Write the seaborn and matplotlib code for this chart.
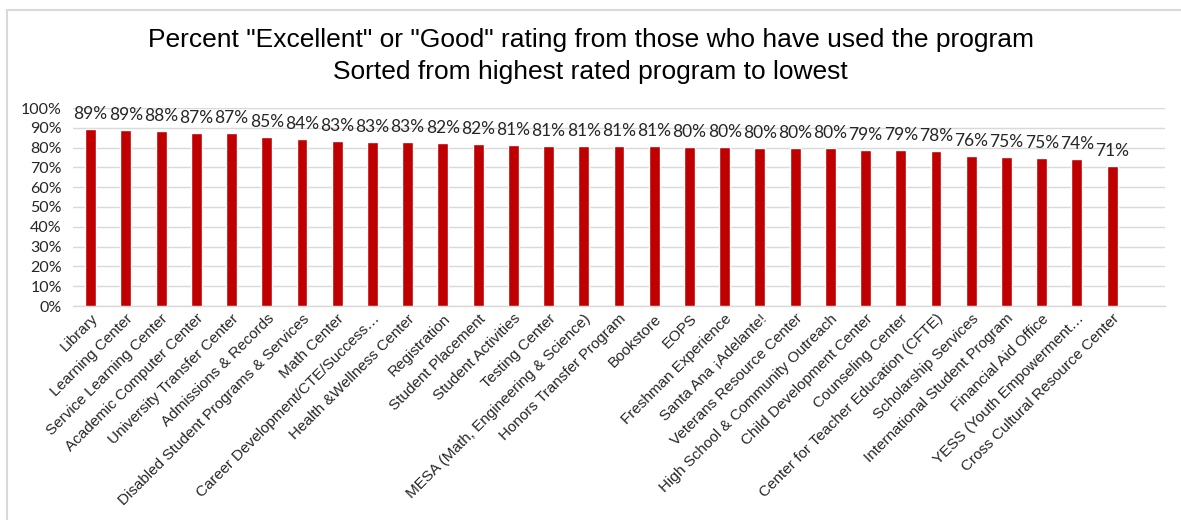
import matplotlib
matplotlib.use("Agg")
import matplotlib.pyplot as plt
import seaborn as sns
import pandas as pd
from matplotlib.lines import Line2D
from matplotlib.ticker import PercentFormatter, MultipleLocator

programs = [
    "Library", "Learning Center", "Service Learning Center", "Academic Computer Center",
    "University Transfer Center", "Admissions & Records", "Disabled Student Programs & Services",
    "Math Center", "Career Development/CTE/Success\u2026", "Health &Wellness Center",
    "Registration", "Student Placement", "Student Activities", "Testing Center",
    "MESA (Math, Engineering & Science)", "Honors Transfer Program", "Bookstore", "EOPS",
    "Freshman Experience", "Santa Ana \u00a1Adelante!", "Veterans Resource Center",
    "High School & Community Outreach", "Child Development Center", "Counseling Center",
    "Center for Teacher Education (CFTE)", "Scholarship Services",
    "International Student Program", "Financial Aid Office", "YESS (Youth Empowerment\u2026",
    "Cross Cultural Resource Center",
]
pct_good = [
    89.3, 88.8, 88.4, 87.4, 87.4, 85.2, 84.3, 83.3, 82.9, 82.9,
    82.4, 82.0, 81.4, 81.0, 81.0, 81.0, 81.0, 80.2, 80.1, 79.8,
    79.7, 79.7, 78.7, 78.6, 78.4, 76.0, 75.4, 74.6, 74.1, 70.8,
]

df = pd.DataFrame({"program": programs, "pct": [v / 100 for v in pct_good]})

sns.set_theme(style="white")
plt.rcParams["font.family"] = ["Liberation Sans", "DejaVu Sans"]

fig = plt.figure(figsize=(11.81, 5.2), dpi=100)
ax = fig.add_axes([73 / 1181, 1 - 306 / 520, (1165 - 73) / 1181, (306 - 108) / 520])

sns.barplot(data=df, x="program", y="pct", color="#C00000", saturation=1,
            width=0.31, ax=ax, zorder=3)

ax.set_xlim(-0.5, len(programs) + 0.5)
ax.set_ylim(0, 1.0)
ax.yaxis.set_major_locator(MultipleLocator(0.1))
ax.yaxis.set_major_formatter(PercentFormatter(1.0, decimals=0))
ax.grid(axis="y", color="#d9d9d9", linewidth=1, zorder=0)
ax.grid(axis="x", visible=False)
for side in ["left", "right", "top"]:
    ax.spines[side].set_visible(False)
ax.spines["bottom"].set_color("#d9d9d9")
ax.spines["bottom"].set_linewidth(1)
ax.set_xlabel("")
ax.set_ylabel("")
ax.tick_params(axis="both", length=0)
ax.tick_params(axis="y", pad=8)

for lbl in ax.get_yticklabels():
    lbl.set_fontfamily(["Lato", "DejaVu Sans"])
    lbl.set_fontsize(11.5)
    lbl.set_color("#262626")

ax.set_xticks(range(len(programs)))
ax.set_xticklabels(programs, rotation=45, ha="right", rotation_mode="anchor",
                   fontsize=11, color="#262626")
ax.tick_params(axis="x", pad=4)

ax.bar_label(ax.containers[0], labels=[f"{v:.0f}%" for v in pct_good], padding=5,
             fontsize=12.5, family=["Lato", "DejaVu Sans"], color="#262626")

fig.text(0.5, 1 - 40 / 520, 'Percent "Excellent" or "Good" rating from those who have used the program',
         ha="center", va="center", fontsize=19, color="#000000")
fig.text(0.5, 1 - 72 / 520, "Sorted from highest rated program to lowest",
         ha="center", va="center", fontsize=19, color="#000000")

# chart-area border along the top and left edges
fig.add_artist(Line2D([7 / 1181, 1], [1 - 10 / 520, 1 - 10 / 520], color="#d9d9d9", lw=1.5))
fig.add_artist(Line2D([7 / 1181, 7 / 1181], [0, 1 - 10 / 520], color="#d9d9d9", lw=1.5))

fig.savefig("out.png", dpi=100, facecolor="white")
